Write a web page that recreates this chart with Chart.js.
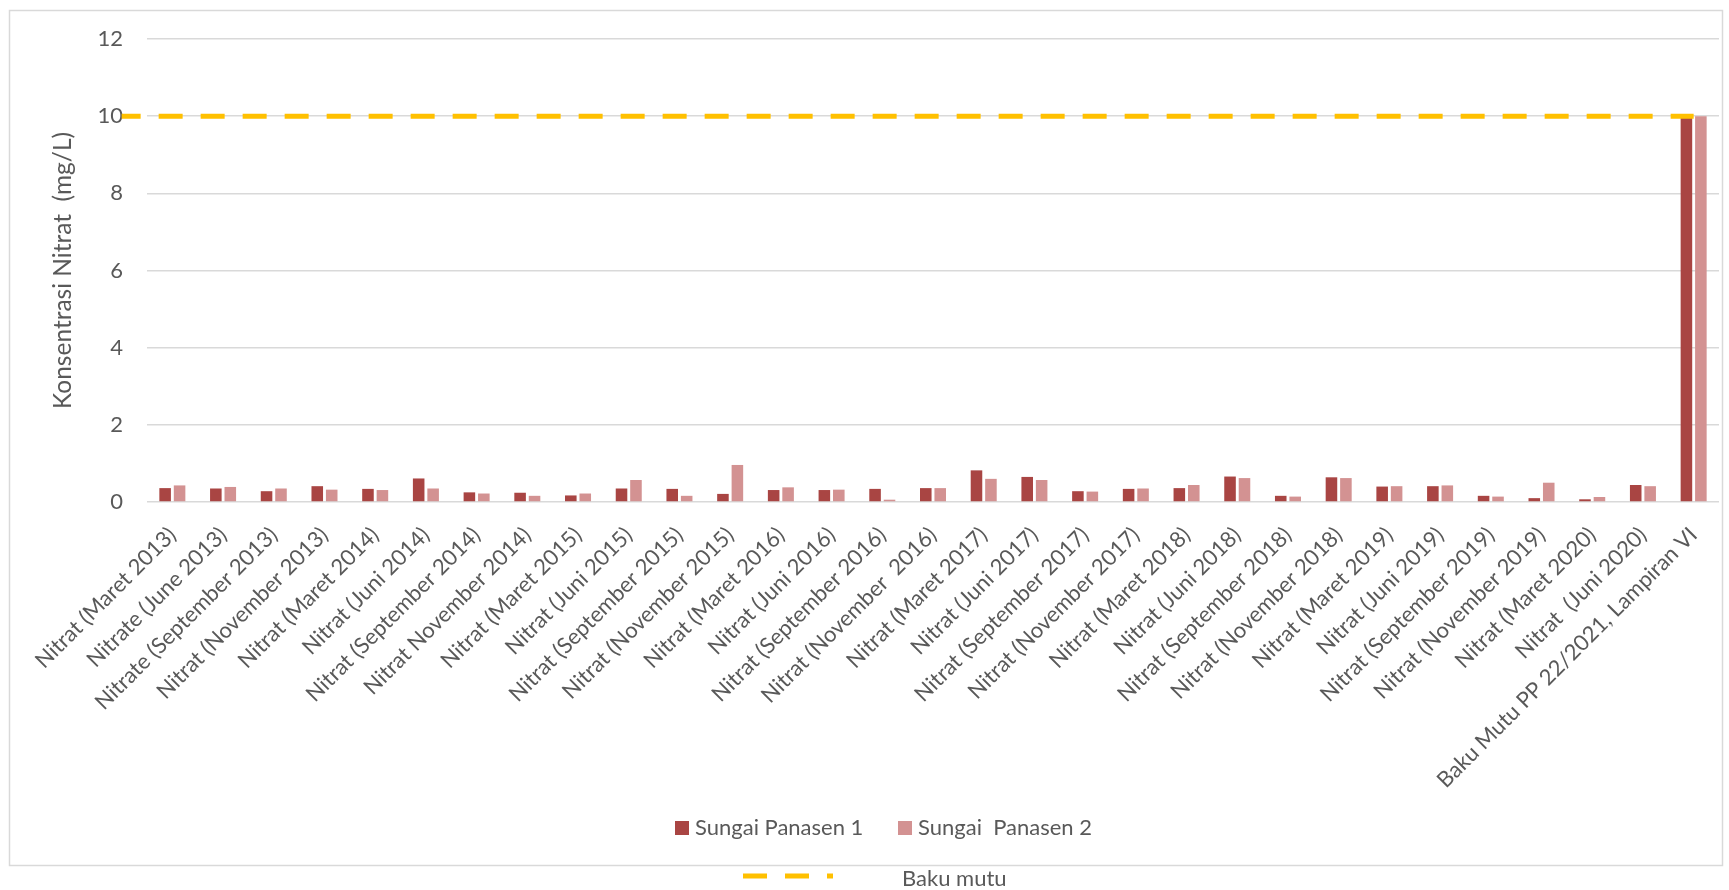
<!DOCTYPE html>
<html>
<head>
<meta charset="utf-8">
<script src="https://cdn.jsdelivr.net/npm/chart.js@4.4.1/dist/chart.umd.min.js"></script>
<style>
  html, body { margin: 0; padding: 0; background: #ffffff; }
  #wrap { width: 1729px; height: 890px; position: relative; }
</style>
</head>
<body>
<div id="wrap"><canvas id="c" width="1729" height="890"></canvas></div>
<script>
// ---------------- data ----------------
const categories = [
  "Nitrat (Maret 2013)",
  "Nitrate (June 2013)",
  "Nitrate (September 2013)",
  "Nitrat (November 2013)",
  "Nitrat (Maret 2014)",
  "Nitrat (Juni 2014)",
  "Nitrat (September 2014)",
  "Nitrat November 2014)",
  "Nitrat (Maret 2015)",
  "Nitrat (Juni 2015)",
  "Nitrat (September 2015)",
  "Nitrat (November 2015)",
  "Nitrat (Maret 2016)",
  "Nitrat (Juni 2016)",
  "Nitrat (September 2016)",
  "Nitrat (November  2016)",
  "Nitrat (Maret 2017)",
  "Nitrat (Juni 2017)",
  "Nitrat (September 2017)",
  "Nitrat (November 2017)",
  "Nitrat (Maret 2018)",
  "Nitrat (Juni 2018)",
  "Nitrat (September 2018)",
  "Nitrat (November 2018)",
  "Nitrat (Maret 2019)",
  "Nitrat (Juni 2019)",
  "Nitrat (September 2019)",
  "Nitrat (November 2019)",
  "Nitrat (Maret 2020)",
  "Nitrat  (Juni 2020)",
  "Baku Mutu PP 22/2021, Lampiran VI"
];

const panasen1 = [0.36, 0.35, 0.28, 0.41, 0.34, 0.61, 0.25, 0.24, 0.17, 0.35,
                  0.34, 0.21, 0.31, 0.31, 0.34, 0.36, 0.82, 0.65, 0.28, 0.34,
                  0.36, 0.66, 0.16, 0.64, 0.40, 0.41, 0.16, 0.10, 0.07, 0.44,
                  10];

const panasen2 = [0.43, 0.39, 0.35, 0.32, 0.31, 0.35, 0.22, 0.16, 0.22, 0.57,
                  0.16, 0.96, 0.38, 0.32, 0.06, 0.36, 0.60, 0.57, 0.27, 0.35,
                  0.44, 0.62, 0.14, 0.62, 0.41, 0.43, 0.14, 0.50, 0.13, 0.41,
                  10];

// Baku mutu line (secondary positions, one more point than categories)
const bakuMutu = [10, 10, 10, 10, 10, 10, 10, 10, 10, 10, 10, 10, 10, 10, 10, 10,
                  10, 10, 10, 10, 10, 10, 10, 10, 10, 10, 10, 10, 10, 10, 10, 10];

const yTicks = [0, 2, 4, 6, 8, 10, 12];

const seriesNames = ["Sungai Panasen 1", "Sungai  Panasen 2", "Baku mutu"];
const yTitle = "Konsentrasi Nitrat  (mg/L)";

// ---------------- styles ----------------
const FAMILY = 'Lato, "Open Sans", "DejaVu Sans", sans-serif';
const TEXT = '#595959';
const DARK = '#A94543';
const LIGHT = '#D39292';
const GOLD = '#FFC000';
const GRID = '#D9D9D9';

const mctx = document.createElement('canvas').getContext('2d');
mctx.font = '100px ' + FAMILY;
const FS = Math.round(168 / mctx.measureText('Sungai Panasen 1').width * 1000) / 10;
const TFS = Math.round(277 / mctx.measureText(yTitle).width * 1000) / 10;
const font = { family: FAMILY, size: FS };
const titleFont = { family: FAMILY, size: TFS };

// Chart.js >= 4.5 splits the category among index axes (the line uses a 2nd x axis)
const axisFactor = (Chart.BarController && Chart.BarController.prototype._getAxisCount) ? 2 : 1;
const CAT_PCT = 0.57 * axisFactor;

const decor = {
  id: 'decor',
  afterDraw(chart) {
    const c = chart.ctx;
    const ds = chart.data.datasets;
    c.save();
    c.strokeStyle = GRID;
    c.lineWidth = 1.5;
    c.strokeRect(9.5, 10.5, 1713, 855);

    c.font = FS + 'px ' + FAMILY;
    c.textBaseline = 'alphabetic';
    c.textAlign = 'left';
    c.fillStyle = ds[1].backgroundColor;
    c.fillRect(675, 821, 14, 14);
    c.fillStyle = TEXT;
    c.fillText(ds[1].label, 695, 835);
    c.fillStyle = ds[2].backgroundColor;
    c.fillRect(898, 821, 14, 14);
    c.fillStyle = TEXT;
    c.fillText(ds[2].label, 918, 835);

    c.strokeStyle = ds[0].borderColor;
    c.lineWidth = 5;
    c.lineCap = 'butt';
    c.setLineDash([24, 18]);
    c.beginPath();
    c.moveTo(743, 876);
    c.lineTo(833, 876);
    c.stroke();
    c.setLineDash([]);
    c.fillStyle = TEXT;
    c.fillText(ds[0].label, 902, 886);
    c.restore();
  }
};

const ctx = document.getElementById('c').getContext('2d');
new Chart(ctx, {
  type: 'bar',
  data: {
    labels: categories,
    datasets: [
      {
        type: 'line',
        label: seriesNames[2],
        data: bakuMutu.map((v, i) => ({ x: i, y: v })),
        xAxisID: 'x2',
        yAxisID: 'y',
        borderColor: GOLD,
        backgroundColor: GOLD,
        borderWidth: 5,
        borderDash: [24, 18],
        borderDashOffset: 5,
        borderCapStyle: 'butt',
        pointRadius: 0,
        tension: 0,
        fill: false,
        clip: false,
        order: 0
      },
      {
        label: seriesNames[0],
        data: panasen1,
        backgroundColor: DARK,
        borderWidth: 0,
        categoryPercentage: CAT_PCT,
        barPercentage: 0.8,
        order: 1
      },
      {
        label: seriesNames[1],
        data: panasen2,
        backgroundColor: LIGHT,
        borderWidth: 0,
        categoryPercentage: CAT_PCT,
        barPercentage: 0.8,
        order: 1
      }
    ]
  },
  options: {
    responsive: false,
    animation: false,
    devicePixelRatio: 1,
    layout: { padding: { top: 39, right: 10, bottom: 0, left: 0 } },
    plugins: {
      legend: { display: false },
      tooltip: { enabled: false }
    },
    scales: {
      x: {
        type: 'category',
        offset: true,
        grid: { display: false, drawTicks: false },
        border: { display: false },
        ticks: {
          autoSkip: false,
          minRotation: 45,
          maxRotation: 45,
          padding: 20,
          color: TEXT,
          font: font
        },
        afterFit: (s) => { s.height = 388; s.paddingLeft = 0; s.paddingRight = 0; }
      },
      x2: {
        type: 'linear',
        display: false,
        offset: false,
        grid: { offset: false },
        min: 0.5,
        max: 31.5
      },
      y: {
        min: yTicks[0],
        max: yTicks[yTicks.length - 1],
        afterBuildTicks: (s) => { s.ticks = yTicks.map(v => ({ value: v })); },
        ticks: { padding: 24, color: TEXT, font: font },
        grid: { color: GRID, lineWidth: 1.5, drawTicks: false },
        border: { display: false },
        title: {
          display: true,
          text: yTitle,
          color: TEXT,
          font: titleFont,
          padding: { top: 48, bottom: 0 }
        },
        afterFit: (s) => { s.width = 147; }
      }
    }
  },
  plugins: [decor]
});
</script>
</body>
</html>
